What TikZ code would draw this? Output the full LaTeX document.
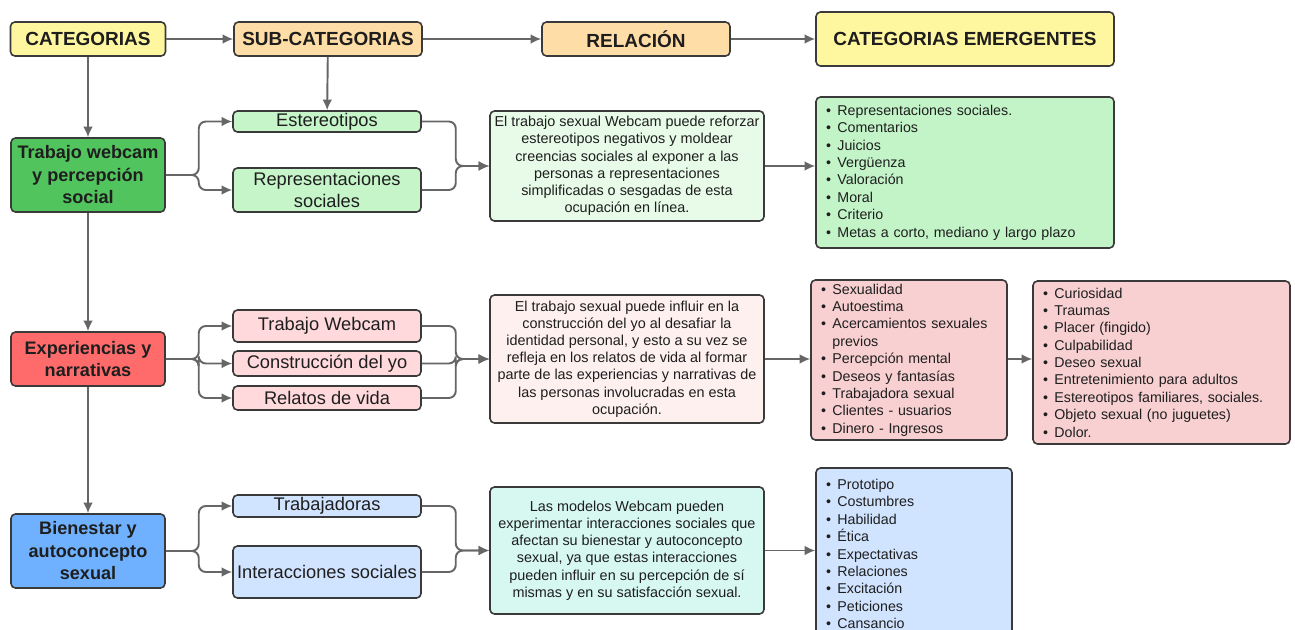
\documentclass[tikz,border=0pt]{standalone}
\usepackage{fontspec}
\setmainfont{Liberation Sans}
\usepackage{xcolor}
\usetikzlibrary{arrows.meta}

\definecolor{linegray}{HTML}{666666}
\definecolor{boxline}{HTML}{3A3A3A}
\definecolor{txt}{HTML}{1E1E1E}
\definecolor{hdryellow}{HTML}{FFF6A0}
\definecolor{hdrorange}{HTML}{FFDDA6}
\definecolor{catgreen}{HTML}{52C45E}
\definecolor{subgreen}{HTML}{C5F5C9}
\definecolor{relgreen}{HTML}{E7FBE8}
\definecolor{lstgreen}{HTML}{C3F4C8}
\definecolor{catred}{HTML}{FF6B6B}
\definecolor{subred}{HTML}{FFD9DB}
\definecolor{relred}{HTML}{FFF0F0}
\definecolor{lstred}{HTML}{F8D0D1}
\definecolor{catblue}{HTML}{6FB1FF}
\definecolor{subblue}{HTML}{D1E4FF}
\definecolor{relcyan}{HTML}{D6F8F1}
\definecolor{lstblue}{HTML}{D0E3FF}

\newcommand{\bul}{\textbullet\hspace{0.45em}}
\newcommand{\nobul}{\hphantom{\textbullet\hspace{0.45em}}}

\begin{document}
\begin{tikzpicture}[
            x = 0.02cm, y = -0.02cm, % one unit = one pixel of the sketch
            > = {Latex[length=6pt,width=5.5pt]}, % arrow head style
            conn/.style = {draw=linegray, line width=1.1pt, rounded corners=4pt},
            arr/.style = {conn, ->},
            box/.style = {draw=boxline, line width=0.9pt, rounded corners=2.5pt, inner sep=0pt, text=txt, align=center},
            hdr/.style = {box, font=\bfseries\fontsize{10.8}{12.5}\selectfont, minimum height=0.68cm, minimum width=3.76cm},
            catbox/.style = {box, font=\bfseries\fontsize{10.3}{12.8}\selectfont, minimum width=3.08cm},
            subbox/.style = {box, font=\fontsize{10.4}{12.3}\selectfont, minimum width=3.76cm},
            relbox/.style = {box, font=\fontsize{8.2}{9.8}\selectfont, minimum width=5.48cm},
            listbox/.style = {box, font=\fontsize{8.1}{9.9}\selectfont, align=left, inner xsep=0.2cm}
        ]

\useasboundingbox (0,0) rectangle (1295,629);
\clip (0,0) rectangle (1295,629);

% headers
\node[hdr, fill=hdryellow, minimum width=3.1cm] (cat) at (88,39) {CATEGORIAS};
\node[hdr, fill=hdrorange] (sub) at (328,39) {SUB-CATEGORIAS};
\node[hdr, fill=hdrorange] (rel) at (636,39) {RELACIÓN};
\node[hdr, fill=hdryellow, minimum width=5.96cm, minimum height=1.08cm] (emer) at (965,39) {CATEGORIAS EMERGENTES};

\draw[arr] (cat) -- (sub);
\draw[arr] (sub) -- (rel);
\draw[arr] (rel) -- (emer);

% first category
\node[catbox, fill=catgreen, minimum height=1.48cm] (tw) at (88,175) {Trabajo webcam\\y percepción\\social};
\node[subbox, fill=subgreen, minimum height=0.42cm] (est) at (327,121.5) {Estereotipos};
\node[subbox, fill=subgreen, minimum height=0.88cm] (rep) at (327,190) {Representaciones\\sociales};
\node[relbox, fill=relgreen, minimum height=2.2cm] (rel1) at (627,166) {El trabajo sexual Webcam puede reforzar\\estereotipos negativos y moldear\\creencias sociales al exponer a las\\personas a representaciones\\simplificadas o sesgadas de esta\\ocupación en línea.};
\node[listbox, fill=lstgreen, minimum height=3.02cm, text width=5.56cm] (l1) at (965,172.5) {%
\bul Representaciones sociales.\\
\bul Comentarios\\
\bul Juicios\\
\bul Vergüenza\\
\bul Valoración\\
\bul Moral\\
\bul Criterio\\
\bul Metas a corto, mediano y largo plazo};

\draw[arr] (cat) -- (tw);
\draw[arr] (sub) -- (est);
\draw[arr] (tw.east) -- ++(33,0) |- (est.west);
\draw[arr] (tw.east) -- ++(33,0) |- (rep.west);
\draw[arr] (est.east) -- ++(34,0) |- (rel1.west);
\draw[arr] (rep.east) -- ++(34,0) |- (rel1.west);
\draw[arr] (rel1) -- (rel1 -| l1.west);

% second category
\node[catbox, fill=catred, minimum height=1.08cm] (exp) at (88,359) {Experiencias y\\narrativas};
\node[subbox, fill=subred, minimum height=0.64cm] (web) at (327,326) {Trabajo Webcam};
\node[subbox, fill=subred, minimum height=0.5cm] (yo) at (327,363.5) {Construcción del yo};
\node[subbox, fill=subred, minimum height=0.48cm] (vida) at (327,398) {Relatos de vida};
\node[relbox, fill=relred, minimum height=2.56cm] (rel2) at (627,359) {El trabajo sexual puede influir en la\\construcción del yo al desafiar la\\identidad personal, y esto a su vez se\\refleja en los relatos de vida al formar\\parte de las experiencias y narrativas de\\las personas involucradas en esta\\ocupación.};
\node[listbox, fill=lstred, minimum height=3.2cm, text width=3.52cm] (l2) at (909,360) {%
\bul Sexualidad\\
\bul Autoestima\\
\bul Acercamientos sexuales\\
\nobul previos\\
\bul Percepción mental\\
\bul Deseos y fantasías\\
\bul Trabajadora sexual\\
\bul Clientes - usuarios\\
\bul Dinero - Ingresos};
\node[listbox, fill=lstred, minimum height=3.26cm, text width=4.74cm] (l3) at (1161.5,362.5) {%
\bul Curiosidad\\
\bul Traumas\\
\bul Placer (fingido)\\
\bul Culpabilidad\\
\bul Deseo sexual\\
\bul Entretenimiento para adultos\\
\bul Estereotipos familiares, sociales.\\
\bul Objeto sexual (no juguetes)\\
\bul Dolor.};

\draw[arr] (tw) -- (exp);
\draw[arr] (exp.east) -- ++(33,0) |- (web.west);
\draw[arr] (exp.east) -- ++(33,0) |- (yo.west);
\draw[arr] (exp.east) -- ++(33,0) |- (vida.west);
\draw[arr] (web.east) -- ++(34,0) |- (rel2.west);
\draw[arr] (yo.east) -- ++(34,0) |- (rel2.west);
\draw[arr] (vida.east) -- ++(34,0) |- (rel2.west);
\draw[arr] (rel2) -- (rel2 -| l2.west);
\draw[arr] (l2.east |- rel2) -- (rel2 -| l3.west);

% third category
\node[catbox, fill=catblue, minimum height=1.48cm] (bien) at (88,551) {Bienestar y\\autoconcepto\\sexual};
\node[subbox, fill=subblue, minimum height=0.44cm] (trab) at (327,506) {Trabajadoras};
\node[subbox, fill=subblue, minimum height=1.04cm] (inter) at (327,572) {Interacciones sociales};
\node[relbox, fill=relcyan, minimum height=2.54cm] (rel3) at (627,550.5) {Las modelos Webcam pueden\\experimentar interacciones sociales que\\afectan su bienestar y autoconcepto\\sexual, ya que estas interacciones\\pueden influir en su percepción de sí\\mismas y en su satisfacción sexual.};
\node[listbox, fill=lstblue, minimum height=3.44cm, text width=3.52cm] (l4) at (914,554) {%
\bul Prototipo\\
\bul Costumbres\\
\bul Habilidad\\
\bul Ética\\
\bul Expectativas\\
\bul Relaciones\\
\bul Excitación\\
\bul Peticiones\\
\bul Cansancio};

\draw[arr] (exp) -- (bien);
\draw[arr] (bien.east) -- ++(33,0) |- (trab.west);
\draw[arr] (bien.east) -- ++(33,0) |- (inter.west);
\draw[arr] (trab.east) -- ++(34,0) |- (rel3.west);
\draw[arr] (inter.east) -- ++(34,0) |- (rel3.west);
\draw[arr] (rel3) -- (rel3 -| l4.west);
\end{tikzpicture}
\end{document}
